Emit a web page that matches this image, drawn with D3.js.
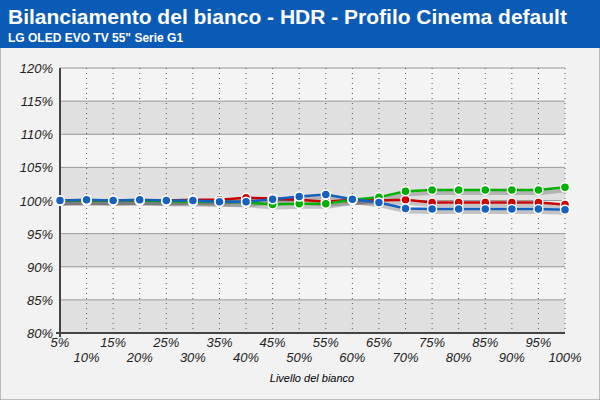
<!DOCTYPE html><html><head><meta charset="utf-8"><script src="https://cdn.jsdelivr.net/npm/d3@7"></script>
<style>body{margin:0}text{font-family:Arial,"Liberation Sans",sans-serif}</style></head><body><svg id="c" width="600" height="400"></svg><script>
const levels=[5,10,15,20,25,30,35,40,45,50,55,60,65,70,75,80,85,90,95,100];
const red=[100,100,100,100,100,100.1,100.1,100.4,100.3,100.1,99.8,100.1,100.0,100.1,99.7,99.7,99.7,99.7,99.7,99.4];
const green=[100,100,100,100,99.9,99.8,99.8,99.7,99.4,99.5,99.5,100.1,100.5,101.4,101.6,101.6,101.6,101.6,101.6,102.0];
const blue=[100,100.1,100,100.1,100,100,99.8,99.8,100.2,100.6,100.9,100.2,99.7,98.8,98.7,98.7,98.7,98.7,98.7,98.6];
const yTicks=[80,85,90,95,100,105,110,115,120];
const svg=d3.select("#c");
svg.append("rect").attr("x",0).attr("y",0).attr("width",600).attr("height",400).attr("fill","#f2f2f2").attr("stroke","#888");
svg.append("rect").attr("x",0).attr("y",0).attr("width",600).attr("height",48).attr("fill","#0a5bb5");
svg.append("text").attr("x",8).attr("y",24).attr("fill","#fff").attr("font-size",21).attr("font-weight","bold").text("Bilanciamento del bianco - HDR - Profilo Cinema default");
svg.append("text").attr("x",8).attr("y",42).attr("fill","#fff").attr("font-size",12).attr("font-weight","bold").text('LG OLED  EVO TV 55" Serie G1');
const x=d3.scalePoint().domain(levels).range([60,565]);
const y=d3.scaleLinear().domain([80,120]).range([333,68]);
for(let i=0;i<8;i++){const a=80+i*5;svg.append("rect").attr("x",60).attr("width",505).attr("y",y(a+5)).attr("height",y(a)-y(a+5)).attr("fill",i%2==0?"#e0e0e0":"#f4f4f4");}
svg.append("g").selectAll("line").data(yTicks).join("line").attr("x1",60).attr("x2",565).attr("y1",d=>y(d)).attr("y2",d=>y(d)).attr("stroke","#999");
svg.append("g").selectAll("line").data(levels.slice(1)).join("line").attr("x1",d=>x(d)).attr("x2",d=>x(d)).attr("y1",y(120)).attr("y2",y(80)).attr("stroke","#555").attr("stroke-dasharray","1,4");
svg.append("line").attr("x1",60).attr("x2",60).attr("y1",y(120)).attr("y2",y(80)+4).attr("stroke","#444").attr("stroke-width",2);
svg.append("line").attr("x1",56).attr("x2",565).attr("y1",y(80)).attr("y2",y(80)).attr("stroke","#444").attr("stroke-width",2);
svg.append("g").selectAll("text").data(yTicks).join("text").attr("x",53).attr("y",d=>y(d)+5).attr("text-anchor","end").attr("font-size",13).attr("font-style","italic").attr("fill","#222").text(d=>d+"%");
svg.append("g").selectAll("text").data(levels).join("text").attr("x",d=>x(d)).attr("y",(d,i)=>i%2==0?347:362).attr("text-anchor","middle").attr("font-size",13).attr("font-style","italic").attr("fill","#222").text(d=>d+"%");
svg.append("text").attr("x",312).attr("y",382).attr("text-anchor","middle").attr("font-size",11).attr("font-style","italic").text("Livello del bianco");
const line=d3.line().x((d,i)=>x(levels[i])).y(d=>y(d));
const series=[[red,"#cc0000"],[green,"#00b000"],[blue,"#1560c0"]];
series.forEach(([s])=>svg.append("path").attr("d",line(s)).attr("transform","translate(2,3)").attr("fill","none").attr("stroke","rgba(0,0,0,0.2)").attr("stroke-width",4));
series.forEach(([s,c])=>{svg.append("path").attr("d",line(s)).attr("fill","none").attr("stroke",c).attr("stroke-width",2.5);});
series.forEach(([s,c])=>svg.append("g").selectAll("circle").data(s).join("circle").attr("cx",(d,i)=>x(levels[i])).attr("cy",d=>y(d)).attr("r",4.5).attr("fill",c).attr("stroke","#fff").attr("stroke-width",1.5));
</script></body></html>
